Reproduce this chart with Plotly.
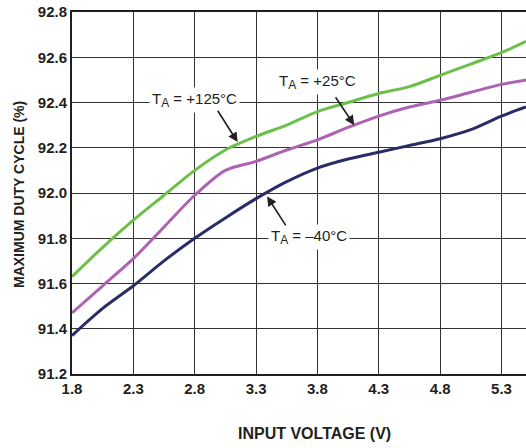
import plotly.graph_objects as go

voltage = [1.8, 2.05, 2.3, 2.55, 2.8, 3.05, 3.3, 3.55, 3.8, 4.05, 4.3, 4.55, 4.8, 5.05, 5.3, 5.5]
duty_125 = [91.63, 91.76, 91.88, 91.99, 92.10, 92.19, 92.25, 92.30, 92.36, 92.40, 92.44, 92.47, 92.52, 92.57, 92.62, 92.67]
duty_25 = [91.47, 91.59, 91.71, 91.85, 91.99, 92.10, 92.14, 92.19, 92.235, 92.29, 92.34, 92.38, 92.41, 92.445, 92.48, 92.50]
duty_m40 = [91.37, 91.49, 91.59, 91.70, 91.80, 91.89, 91.975, 92.05, 92.11, 92.15, 92.18, 92.21, 92.24, 92.28, 92.34, 92.38]

SUB = "<sub><span style='font-size:12px'>A</span></sub>"
labels = ["T" + SUB + " = +125°C", "T" + SUB + " = +25°C", "T" + SUB + " = –40°C"]
x_ticks = [1.8, 2.3, 2.8, 3.3, 3.8, 4.3, 4.8, 5.3]
y_ticks = [91.2, 91.4, 91.6, 91.8, 92.0, 92.2, 92.4, 92.6, 92.8]

FAM = "Liberation Sans, Arial, sans-serif"
INK = "#231f20"
L, T, W, H = 72, 12, 454, 362  # plot area in pixels

fig = go.Figure()
for y, c in [(duty_125, "#6cc04a"), (duty_25, "#ad62b3"), (duty_m40, "#2a2c68")]:
    fig.add_trace(go.Scatter(x=voltage, y=y, mode="lines",
                             line=dict(color=c, width=3, shape="spline", smoothing=0.8),
                             showlegend=False, hoverinfo="skip"))

font_ann = dict(family=FAM, size=15, color=INK)
ann_specs = [
    (labels[0], 2.80, 92.41, 3.15, 92.225, 2.98, 92.37),
    (labels[1], 3.80, 92.49, 4.10, 92.30, 3.94, 92.43),
    (labels[2], 3.73, 91.806, 3.39, 91.985, 3.55, 91.85),
]
for txt, tx, ty, hx, hy, ax, ay in ann_specs:
    fig.add_annotation(x=tx, y=ty, text=txt, showarrow=False, font=font_ann,
                       bgcolor="white", borderpad=2)
    fig.add_annotation(x=hx, y=hy, ax=ax, ay=ay, axref="x", ayref="y", text="",
                       showarrow=True, arrowhead=2, arrowsize=1.2, arrowwidth=1.6,
                       arrowcolor=INK)

# axis titles
fig.add_annotation(x=(314 - L) / W, y=-(433 - (T + H)) / H, xref="paper", yref="paper",
                   text="<b>INPUT VOLTAGE (V)</b>", showarrow=False,
                   xanchor="center", yanchor="middle",
                   font=dict(family=FAM, size=16, color=INK))
fig.add_annotation(x=-(L - 19) / W, y=(T + H - 195) / H, xref="paper", yref="paper",
                   text="<b>MAXIMUM DUTY CYCLE (%)</b>", showarrow=False, textangle=-90,
                   xanchor="center", yanchor="middle",
                   font=dict(family=FAM, size=14, color=INK))

tick_font = dict(family=FAM, size=15, color=INK, weight="bold")
fig.update_xaxes(range=[1.8, 5.5], tickvals=x_ticks, ticktext=[f"{v:.1f}" for v in x_ticks],
                 showgrid=True, gridcolor="#333333", gridwidth=1,
                 showline=True, linecolor=INK, linewidth=2, mirror=True,
                 ticks="", tickfont=tick_font, zeroline=False, automargin=False)
fig.update_yaxes(range=[91.2, 92.8], tickvals=y_ticks, ticktext=[f"{v:.1f}" for v in y_ticks],
                 showgrid=True, gridcolor="#333333", gridwidth=1,
                 showline=True, linecolor=INK, linewidth=2, mirror=True,
                 ticks="", tickfont=tick_font, zeroline=False, automargin=False)

fig.update_layout(
    width=526, height=448,
    margin=dict(l=L, r=526 - L - W, t=T, b=448 - T - H, autoexpand=False),
    plot_bgcolor="white", paper_bgcolor="white",
    font=dict(family=FAM, size=14, color=INK),
)
fig.write_html("out.html", config={"displayModeBar": False},
               post_script="document.body.style.margin='0';document.body.style.overflow='hidden';")
